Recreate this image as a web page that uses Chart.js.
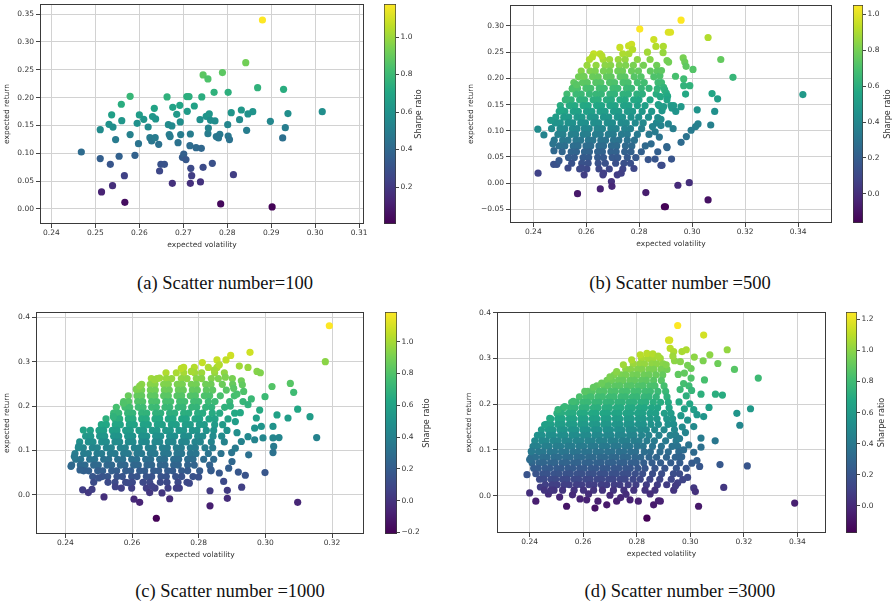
<!DOCTYPE html>
<html>
<head>
<meta charset="utf-8">
<script src="https://cdn.jsdelivr.net/npm/chart.js@4.4.0/dist/chart.umd.min.js"></script>
<style>
    html, body { margin: 0; padding: 0; background: #fff; }
    body { width: 893px; height: 605px; position: relative; overflow: hidden; }
    canvas { position: absolute; }
    .cap {
        position: absolute; white-space: nowrap; line-height: 1;
        font-family: "Liberation Serif", "Times New Roman", serif; font-size: 18.5px; color: #111;
        transform: translateX(-50%);
    }
</style>
</head>
<body>
<canvas id="plotA"></canvas><canvas id="cbarA"></canvas>
<canvas id="plotB"></canvas><canvas id="cbarB"></canvas>
<canvas id="plotC"></canvas><canvas id="cbarC"></canvas>
<canvas id="plotD"></canvas><canvas id="cbarD"></canvas>
<div class="cap" style="left:225px; top:274px;">(a) Scatter number=100</div>
<div class="cap" style="left:680px; top:274px;">(b) Scatter number =500</div>
<div class="cap" style="left:230px; top:582px;">(c) Scatter number =1000</div>
<div class="cap" style="left:680px; top:582px;">(d) Scatter number =3000</div>
<script>
/* =============================
   DATA  ([expected volatility, expected return])
============================= */
const pointsA = [
    [0.2468,0.1023],[0.2511,0.0904],[0.2511,0.1424],[0.2514,0.0305],[0.2534,0.0802],[0.2531,0.152],[0.2537,0.169],
    [0.254,0.147],[0.2539,0.0419],[0.2546,0.1245],[0.2554,0.0946],[0.2559,0.188],[0.256,0.1586],[0.2566,0.0598],
    [0.2567,0.012],[0.2579,0.2023],[0.2579,0.1335],[0.259,0.0963],[0.2595,0.1538],[0.2598,0.1173],[0.26,0.1688],
    [0.261,0.161],[0.262,0.1472],[0.2624,0.128],[0.2628,0.122],[0.263,0.1658],[0.2634,0.1807],[0.2636,0.128],
    [0.2637,0.1616],[0.2644,0.1161],[0.2646,0.0682],[0.2649,0.0802],[0.2657,0.0802],[0.2663,0.2011],[0.2666,0.1514],
    [0.2668,0.1335],[0.267,0.1299],[0.2674,0.149],[0.2675,0.0461],[0.2676,0.1825],[0.2685,0.17],[0.2688,0.1191],
    [0.2692,0.1861],[0.2693,0.1562],[0.2694,0.1335],[0.2698,0.0928],[0.2701,0.0987],[0.2706,0.0886],[0.2709,0.1753],
    [0.2708,0.2017],[0.2713,0.2017],[0.2715,0.1137],[0.2716,0.1346],[0.2716,0.0461],[0.2717,0.073],[0.2719,0.0598],
    [0.2725,0.1849],[0.2729,0.1101],[0.2738,0.1604],[0.2739,0.0485],[0.2742,0.2011],[0.2741,0.1089],[0.2745,0.0748],
    [0.2745,0.2406],[0.2752,0.1664],[0.2756,0.2334],[0.2756,0.1352],[0.2757,0.1454],[0.2759,0.1706],[0.2762,0.1592],
    [0.2766,0.082],[0.277,0.2095],[0.2775,0.1299],[0.2772,0.158],
    [0.288,0.3393],[0.2842,0.2627],[0.2789,0.2448],[0.2869,0.2178],[0.2928,0.2148],[0.2802,0.2095],[0.3016,0.1747],
    [0.2832,0.1777],[0.2809,0.1729],[0.2858,0.1747],[0.2847,0.1706],[0.2938,0.1712],[0.2828,0.1604],[0.2898,0.1574],
    [0.2932,0.146],[0.2801,0.1514],[0.2844,0.1412],[0.2783,0.134],[0.278,0.1275],[0.2802,0.131],[0.2805,0.1245],
    [0.2926,0.1275],[0.2814,0.0616],[0.2785,0.009],[0.2902,0.0036]
];

// (b) dense body, read band by band: return level -> volatilities seen in that band
const bandRetB = [0.247,0.236,0.225,0.214,0.203,0.192,0.181,0.170,0.159,0.148,0.137,0.126,0.115,0.104,0.093,0.082,0.071,0.060,0.049,0.038,0.027,0.016];
const bandVolB = [
    [0.2628,0.2652,0.2738,0.2761],
    [0.2612,0.2664,0.2688,0.2721,0.2747,0.2793,0.2841],
    [0.2603,0.2637,0.2671,0.2692,0.2725,0.2749,0.2778,0.2816,0.2866],
    [0.2581,0.2615,0.2634,0.2665,0.2688,0.2719,0.2737,0.2771,0.2797,0.2842,0.2868],
    [0.2571,0.2592,0.2624,0.2645,0.2676,0.2694,0.2728,0.2746,0.2781,0.2807,0.2855],
    [0.2553,0.2586,0.2604,0.2636,0.2655,0.2688,0.2707,0.2739,0.2758,0.2793,0.2819,0.2871],
    [0.2548,0.2567,0.2599,0.2617,0.2649,0.2668,0.2701,0.2719,0.2752,0.2771,0.2808,0.2837],
    [0.2527,0.2561,0.2581,0.2612,0.2637,0.2657,0.2689,0.2707,0.2739,0.2759,0.2791,0.2812,0.2864],
    [0.2521,0.2543,0.2575,0.2594,0.2626,0.2645,0.2676,0.2695,0.2727,0.2747,0.2779,0.2799,0.2841],
    [0.2502,0.2536,0.2557,0.2588,0.2607,0.2639,0.2658,0.2689,0.2709,0.2741,0.2761,0.2793,0.2822,0.2875],
    [0.2498,0.2519,0.2551,0.2570,0.2601,0.2621,0.2652,0.2671,0.2703,0.2723,0.2755,0.2775,0.2811,0.2847],
    [0.2485,0.2515,0.2534,0.2565,0.2584,0.2615,0.2634,0.2665,0.2685,0.2717,0.2737,0.2769,0.2798,0.2835],
    [0.2483,0.2502,0.2531,0.2549,0.2579,0.2597,0.2628,0.2647,0.2679,0.2699,0.2731,0.2751,0.2785,0.2815,0.2865],
    [0.2469,0.2501,0.2519,0.2548,0.2565,0.2593,0.2611,0.2641,0.2661,0.2693,0.2713,0.2745,0.2767,0.2809],
    [0.2493,0.2512,0.2543,0.2560,0.2589,0.2605,0.2635,0.2653,0.2683,0.2702,0.2733,0.2755,0.2793,0.2837],
    [0.2479,0.2511,0.2531,0.2561,0.2579,0.2608,0.2625,0.2655,0.2673,0.2703,0.2723,0.2755,0.2782],
    [0.2498,0.2519,0.2551,0.2569,0.2599,0.2617,0.2648,0.2665,0.2695,0.2715,0.2748,0.2772,0.2823],
    [0.2509,0.2543,0.2563,0.2593,0.2612,0.2643,0.2661,0.2693,0.2713,0.2745,0.2769,0.2808],
    [0.2533,0.2555,0.2588,0.2609,0.2643,0.2665,0.2698,0.2719,0.2755,0.2787],
    [0.2545,0.2583,0.2607,0.2645,0.2672,0.2711,0.2742],
    [0.2575,0.2602,0.2648,0.2687,0.2738],
    [0.2592,0.2663,0.2717]
];
const loosePointsB = [
    [0.2417,0.103],[0.2440,0.092],[0.2418,0.019],[0.2466,0.120],[0.2474,0.075],[0.2478,0.062],[0.2477,0.036],
    [0.2489,0.036],[0.2497,0.043],[0.2531,0.029],[0.2506,0.140],[0.2525,0.160],[0.2547,0.180],[0.2563,0.188],
    [0.2589,0.204],[0.2623,0.241],[0.2659,0.243],
    [0.2802,0.294],[0.2855,0.274],[0.2910,0.288],[0.2727,0.259],[0.2760,0.262],[0.2771,0.265],[0.2775,0.255],
    [0.2831,0.250],[0.2863,0.261],
    [0.2582,0.029],[0.2665,0.019],[0.2695,0.003],[0.2697,-0.006],[0.2653,-0.011],[0.2567,-0.020],[0.2732,0.019],
    [0.2767,0.038],[0.2825,-0.018],[0.2895,-0.045],[0.2834,0.045],[0.2860,0.046],[0.2882,0.034],[0.2904,0.070],
    [0.2870,0.060],[0.2845,0.075],[0.2780,0.028],
    [0.2878,0.205],[0.2884,0.192],[0.2868,0.180],[0.2880,0.165],[0.2872,0.150],[0.2886,0.138],[0.2870,0.125],
    [0.2882,0.110],[0.2860,0.098],[0.2876,0.088],[0.2850,0.108],
    [0.2958,0.311],[0.2918,0.288],[0.3060,0.278],[0.2891,0.261],[0.2890,0.249],[0.2966,0.239],[0.2972,0.231],
    [0.2977,0.223],[0.2905,0.234],[0.2911,0.231],[0.3108,0.236],[0.3003,0.217],[0.3154,0.202],[0.2884,0.215],
    [0.2937,0.204],[0.2968,0.199],[0.2968,0.186],[0.2991,0.186],[0.2892,0.183],[0.2896,0.178],[0.2902,0.172],
    [0.2907,0.166],[0.2905,0.159],[0.2975,0.170],[0.3075,0.171],[0.3418,0.169],[0.3096,0.161],[0.2920,0.148],
    [0.2930,0.148],[0.2924,0.143],[0.2958,0.146],[0.2892,0.146],[0.2938,0.137],[0.3019,0.140],[0.3085,0.137],
    [0.2882,0.122],[0.2910,0.113],[0.2928,0.104],[0.3022,0.113],[0.3013,0.108],[0.3070,0.111],[0.2996,0.101],
    [0.2978,0.089],[0.2958,0.078],[0.2905,0.068],[0.2922,0.046],[0.2886,0.034],[0.2989,0.001],[0.2946,-0.004],
    [0.3060,-0.032],[0.2899,-0.045]
];

// (c)
const bandRetC = [0.287,0.275,0.262,0.249,0.236,0.223,0.210,0.197,0.184,0.171,0.158,0.145,0.132,0.119,0.106,0.093,0.080,0.067,0.054,0.041,0.028,0.015];
const bandVolC = [
    [0.2755,0.2787,0.2829,0.2855],
    [0.2702,0.2733,0.2755,0.2788,0.2809,0.2848,0.2877],
    [0.2658,0.2675,0.2703,0.2719,0.2748,0.2765,0.2793,0.2809,0.2838,0.2859,0.2901],
    [0.2629,0.2655,0.2669,0.2695,0.2709,0.2736,0.2751,0.2778,0.2793,0.2821,0.2837,0.2871,0.2902],
    [0.2615,0.2629,0.2655,0.2670,0.2697,0.2712,0.2739,0.2754,0.2781,0.2796,0.2823,0.2842,0.2883],
    [0.2589,0.2615,0.2629,0.2655,0.2669,0.2695,0.2709,0.2735,0.2749,0.2775,0.2790,0.2817,0.2833,0.2865,0.2907],
    [0.2575,0.2590,0.2617,0.2632,0.2659,0.2674,0.2701,0.2716,0.2743,0.2758,0.2785,0.2800,0.2829,0.2849,0.2893],
    [0.2553,0.2579,0.2593,0.2619,0.2633,0.2659,0.2673,0.2699,0.2713,0.2739,0.2753,0.2779,0.2794,0.2821,0.2839,0.2878],
    [0.2545,0.2560,0.2587,0.2602,0.2629,0.2644,0.2671,0.2686,0.2713,0.2728,0.2755,0.2770,0.2797,0.2812,0.2841,0.2863,0.2908],
    [0.2522,0.2549,0.2563,0.2589,0.2603,0.2629,0.2643,0.2669,0.2683,0.2709,0.2723,0.2749,0.2763,0.2789,0.2803,0.2831,0.2849,0.2888],
    [0.2508,0.2523,0.2550,0.2565,0.2592,0.2607,0.2634,0.2649,0.2676,0.2691,0.2718,0.2733,0.2760,0.2775,0.2802,0.2817,0.2848,0.2872],
    [0.2475,0.2501,0.2515,0.2541,0.2555,0.2581,0.2595,0.2621,0.2635,0.2661,0.2675,0.2701,0.2715,0.2741,0.2755,0.2781,0.2795,0.2823,0.2845,0.2885],
    [0.2461,0.2476,0.2503,0.2518,0.2545,0.2560,0.2587,0.2602,0.2629,0.2644,0.2671,0.2686,0.2713,0.2728,0.2755,0.2770,0.2797,0.2812,0.2843,0.2869],
    [0.2443,0.2469,0.2483,0.2509,0.2523,0.2549,0.2563,0.2589,0.2603,0.2629,0.2643,0.2669,0.2683,0.2709,0.2723,0.2749,0.2763,0.2789,0.2805,0.2838,0.2877],
    [0.2439,0.2454,0.2481,0.2496,0.2523,0.2538,0.2565,0.2580,0.2607,0.2622,0.2649,0.2664,0.2691,0.2706,0.2733,0.2748,0.2775,0.2790,0.2819,0.2842],
    [0.2429,0.2455,0.2469,0.2495,0.2509,0.2535,0.2549,0.2575,0.2589,0.2615,0.2629,0.2655,0.2669,0.2695,0.2709,0.2735,0.2749,0.2775,0.2792,0.2829,0.2867],
    [0.2431,0.2446,0.2473,0.2488,0.2515,0.2530,0.2557,0.2572,0.2599,0.2614,0.2641,0.2656,0.2683,0.2698,0.2725,0.2740,0.2767,0.2783,0.2815,0.2845],
    [0.2419,0.2445,0.2459,0.2485,0.2499,0.2525,0.2539,0.2565,0.2579,0.2605,0.2619,0.2645,0.2659,0.2685,0.2699,0.2725,0.2739,0.2767,0.2787,0.2833],
    [0.2455,0.2470,0.2497,0.2512,0.2539,0.2554,0.2581,0.2596,0.2623,0.2638,0.2665,0.2680,0.2707,0.2722,0.2749,0.2767,0.2803,0.2837],
    [0.2482,0.2511,0.2527,0.2555,0.2571,0.2599,0.2615,0.2643,0.2659,0.2687,0.2703,0.2731,0.2749,0.2783],
    [0.2528,0.2549,0.2581,0.2601,0.2633,0.2653,0.2685,0.2705,0.2738,0.2765],
    [0.2568,0.2599,0.2643,0.2669,0.2708,0.2742]
];
const loosePointsC = [
    [0.2417,0.064],[0.2427,0.086],[0.2440,0.109],[0.2454,0.146],[0.2444,0.056],[0.2452,0.011],[0.2469,0.005],
    [0.2516,-0.005],[0.2544,0.176],[0.2574,0.206],[0.2613,0.238],[0.2623,0.245],[0.2668,0.259],[0.2683,0.263],
    [0.2748,0.285],[0.2778,0.278],[0.2811,0.298],[0.2855,0.304],[0.2606,-0.010],[0.2623,-0.017],[0.2673,-0.053],
    [0.2653,0.005],[0.2690,0.004],[0.2713,-0.009],[0.2733,0.015],[0.2834,0.009],[0.2834,-0.025],[0.2485,0.028],
    [0.2500,0.038],[0.2550,0.018],[0.2590,0.027],[0.2660,0.019],[0.2772,0.026],[0.2800,0.040],[0.2480,0.012],
    [0.3192,0.381],[0.3180,0.300],[0.2954,0.321],[0.2896,0.314],[0.2882,0.304],[0.2922,0.290],[0.2948,0.287],
    [0.2975,0.278],[0.2985,0.275],[0.2847,0.281],[0.2862,0.293],[0.2928,0.257],[0.2931,0.248],[0.2905,0.240],
    [0.3075,0.251],[0.3020,0.244],[0.3085,0.231],[0.2999,0.221],[0.2935,0.233],[0.2958,0.216],[0.2933,0.210],
    [0.2948,0.203],[0.2983,0.191],[0.2973,0.173],[0.3035,0.180],[0.3068,0.173],[0.3097,0.193],[0.3134,0.176],
    [0.3154,0.129],[0.2988,0.154],[0.3023,0.154],[0.2968,0.150],[0.2948,0.131],[0.2928,0.120],[0.2968,0.124],
    [0.2993,0.128],[0.3023,0.128],[0.3041,0.129],[0.3025,0.109],[0.3023,0.095],[0.2950,0.090],[0.2899,0.095],
    [0.2919,0.051],[0.2940,0.044],[0.2999,0.050],[0.2929,0.017],[0.2886,0.010],[0.2886,-0.008],[0.3097,-0.017],
    [0.2862,0.049],[0.2837,0.056],[0.2900,0.075],[0.2915,0.140],[0.2910,0.165],[0.2925,0.185],[0.2895,0.200],
    [0.2915,0.227],[0.2880,0.265],[0.2910,0.105],[0.2890,0.060],[0.2875,0.030]
];

// (d)
const bandRetD = [0.300,0.288,0.276,0.264,0.252,0.240,0.228,0.216,0.204,0.192,0.180,0.168,0.156,0.144,0.132,0.120,0.108,0.096,0.084,0.072,0.060,0.048,0.036,0.024,0.012];
const bandVolD = [
    [0.2818,0.2843,0.2861,0.2888],
    [0.2787,0.2812,0.2829,0.2856,0.2874,0.2899],
    [0.2759,0.2777,0.2803,0.2820,0.2846,0.2864,0.2891,0.2913],
    [0.2716,0.2742,0.2759,0.2785,0.2802,0.2828,0.2846,0.2872,0.2897],
    [0.2689,0.2706,0.2732,0.2749,0.2775,0.2792,0.2818,0.2836,0.2863,0.2892],
    [0.2651,0.2677,0.2694,0.2720,0.2737,0.2763,0.2780,0.2806,0.2823,0.2849,0.2868,0.2902],
    [0.2617,0.2634,0.2660,0.2677,0.2703,0.2720,0.2746,0.2763,0.2789,0.2806,0.2832,0.2851,0.2879,0.2908],
    [0.2586,0.2612,0.2629,0.2655,0.2672,0.2698,0.2715,0.2741,0.2758,0.2784,0.2801,0.2827,0.2846,0.2873,0.2913],
    [0.2557,0.2574,0.2600,0.2617,0.2643,0.2660,0.2686,0.2703,0.2729,0.2746,0.2772,0.2789,0.2815,0.2834,0.2862,0.2889,0.2918],
    [0.2526,0.2552,0.2569,0.2595,0.2612,0.2638,0.2655,0.2681,0.2698,0.2724,0.2741,0.2767,0.2784,0.2810,0.2829,0.2855,0.2878,0.2921],
    [0.2502,0.2519,0.2545,0.2562,0.2588,0.2605,0.2631,0.2648,0.2674,0.2691,0.2717,0.2734,0.2760,0.2777,0.2803,0.2822,0.2849,0.2871,0.2903,0.2928],
    [0.2479,0.2505,0.2522,0.2548,0.2565,0.2591,0.2608,0.2634,0.2651,0.2677,0.2694,0.2720,0.2737,0.2763,0.2780,0.2806,0.2825,0.2851,0.2876,0.2912,0.2934],
    [0.2462,0.2479,0.2505,0.2522,0.2548,0.2565,0.2591,0.2608,0.2634,0.2651,0.2677,0.2694,0.2720,0.2737,0.2763,0.2780,0.2806,0.2825,0.2853,0.2881,0.2917,0.2938],
    [0.2444,0.2470,0.2487,0.2513,0.2530,0.2556,0.2573,0.2599,0.2616,0.2642,0.2659,0.2685,0.2702,0.2728,0.2745,0.2771,0.2788,0.2814,0.2836,0.2867,0.2902,0.2941],
    [0.2429,0.2446,0.2472,0.2489,0.2515,0.2532,0.2558,0.2575,0.2601,0.2618,0.2644,0.2661,0.2687,0.2704,0.2730,0.2747,0.2773,0.2790,0.2818,0.2845,0.2883,0.2925,0.2946],
    [0.2419,0.2445,0.2462,0.2488,0.2505,0.2531,0.2548,0.2574,0.2591,0.2617,0.2634,0.2660,0.2677,0.2703,0.2720,0.2746,0.2763,0.2789,0.2809,0.2838,0.2866,0.2908,0.2947],
    [0.2413,0.2430,0.2456,0.2473,0.2499,0.2516,0.2542,0.2559,0.2585,0.2602,0.2628,0.2645,0.2671,0.2688,0.2714,0.2731,0.2757,0.2774,0.2801,0.2824,0.2859,0.2892,0.2932,0.2953],
    [0.2407,0.2433,0.2450,0.2476,0.2493,0.2519,0.2536,0.2562,0.2579,0.2605,0.2622,0.2648,0.2665,0.2691,0.2708,0.2734,0.2751,0.2777,0.2796,0.2828,0.2851,0.2887,0.2918,0.2957],
    [0.2405,0.2422,0.2448,0.2465,0.2491,0.2508,0.2534,0.2551,0.2577,0.2594,0.2620,0.2637,0.2663,0.2680,0.2706,0.2723,0.2749,0.2766,0.2793,0.2815,0.2846,0.2874,0.2911,0.2944,0.2962],
    [0.2409,0.2435,0.2452,0.2478,0.2495,0.2521,0.2538,0.2564,0.2581,0.2607,0.2624,0.2650,0.2667,0.2693,0.2710,0.2736,0.2753,0.2779,0.2798,0.2826,0.2857,0.2889,0.2927,0.2961],
    [0.2415,0.2432,0.2458,0.2475,0.2501,0.2518,0.2544,0.2561,0.2587,0.2604,0.2630,0.2647,0.2673,0.2690,0.2716,0.2733,0.2759,0.2776,0.2804,0.2831,0.2868,0.2905,0.2948],
    [0.2423,0.2449,0.2466,0.2492,0.2509,0.2535,0.2552,0.2578,0.2595,0.2621,0.2638,0.2664,0.2681,0.2707,0.2724,0.2750,0.2768,0.2795,0.2822,0.2859,0.2893,0.2937],
    [0.2437,0.2454,0.2480,0.2497,0.2523,0.2540,0.2566,0.2583,0.2609,0.2626,0.2652,0.2669,0.2695,0.2712,0.2738,0.2757,0.2786,0.2813,0.2849,0.2886,0.2929],
    [0.2459,0.2484,0.2503,0.2529,0.2548,0.2575,0.2594,0.2621,0.2641,0.2668,0.2688,0.2716,0.2737,0.2768,0.2797,0.2836,0.2877,0.2912],
    [0.2491,0.2523,0.2566,0.2601,0.2639,0.2672,0.2713,0.2752,0.2789,0.2831,0.2868]
];
const loosePointsD = [
    [0.2390,0.046],[0.2400,0.079],[0.2406,0.097],[0.2400,0.006],[0.2423,-0.012],[0.2538,-0.023],[0.2512,-0.003],
    [0.2588,-0.007],[0.2613,-0.009],[0.2644,-0.027],[0.2655,-0.012],[0.2688,-0.020],[0.2725,-0.012],[0.2740,-0.004],
    [0.2775,-0.009],[0.2806,-0.012],[0.2838,-0.049],[0.2863,-0.020],[0.2881,-0.011],[0.2470,0.004],[0.2480,0.012],
    [0.2560,0.002],[0.2620,0.004],[0.2700,0.001],[0.2760,0.003],[0.2850,0.004],[0.2440,0.019],[0.2455,0.012],
    [0.2456,0.155],[0.2475,0.169],[0.2506,0.188],[0.2531,0.195],[0.2563,0.206],[0.2606,0.228],[0.2638,0.237],
    [0.2669,0.246],[0.2700,0.260],[0.2725,0.271],[0.2750,0.286],[0.2781,0.297],[0.2813,0.308],[0.2838,0.311],
    [0.2919,0.340],[0.2925,0.322],[0.2860,0.310],[0.2880,0.305],
    [0.2953,0.372],[0.3050,0.351],[0.2923,0.340],[0.2938,0.315],[0.2969,0.315],[0.2985,0.319],[0.3138,0.319],
    [0.3073,0.308],[0.3015,0.303],[0.3048,0.295],[0.3103,0.289],[0.2941,0.295],[0.2963,0.293],[0.2910,0.286],
    [0.3165,0.276],[0.3003,0.278],[0.3254,0.257],[0.3053,0.253],[0.3003,0.257],[0.3094,0.222],[0.3120,0.220],
    [0.3040,0.222],[0.2998,0.201],[0.3013,0.188],[0.3070,0.193],[0.3225,0.190],[0.3174,0.180],[0.3185,0.154],
    [0.3025,0.177],[0.3050,0.173],[0.3013,0.151],[0.3093,0.120],[0.3040,0.126],[0.2994,0.111],[0.3040,0.106],
    [0.3013,0.095],[0.3111,0.068],[0.3213,0.065],[0.3006,0.071],[0.3035,0.064],[0.3025,0.077],[0.3125,0.018],
    [0.3013,0.017],[0.3019,0.009],[0.3031,-0.023],[0.3390,-0.016],[0.2953,0.028],[0.2938,0.012],[0.2888,-0.012],
    [0.2955,0.265],[0.2975,0.245],[0.2962,0.232],[0.2985,0.218],[0.2958,0.205],[0.2978,0.190],[0.2965,0.175],
    [0.2990,0.165],[0.2970,0.150],[0.2982,0.138],[0.2960,0.125],[0.2975,0.100],[0.2968,0.085],[0.2985,0.060],
    [0.2960,0.048],[0.2972,0.035],[0.2990,0.040],[0.2945,0.022],[0.2978,0.268],[0.2995,0.240],[0.3005,0.230],
    [0.2990,0.285],[0.2935,0.305]
];

// axis ticks
const volTicksA = [0.24,0.25,0.26,0.27,0.28,0.29,0.30,0.31];
const retTicksA = [0.00,0.05,0.10,0.15,0.20,0.25,0.30,0.35];
const volTicksB = [0.24,0.26,0.28,0.30,0.32,0.34];
const retTicksB = [-0.05,0.00,0.05,0.10,0.15,0.20,0.25,0.30];
const volTicksC = [0.24,0.26,0.28,0.30,0.32];
const retTicksC = [0.0,0.1,0.2,0.3,0.4];
const volTicksD = [0.24,0.26,0.28,0.30,0.32,0.34];
const retTicksD = [0.0,0.1,0.2,0.3,0.4];

// colour bar ranges (Sharpe ratio = return / volatility) and ticks
const sharpeRangeA = [0.003, 1.176];
const sharpeRangeB = [-0.162, 1.052];
const sharpeRangeC = [-0.21, 1.187];
const sharpeRangeD = [-0.175, 1.247];
const sharpeTicksA = [0.2,0.4,0.6,0.8,1.0];
const sharpeTicksB = [0.0,0.2,0.4,0.6,0.8,1.0];
const sharpeTicksC = [-0.2,0.0,0.2,0.4,0.6,0.8,1.0];
const sharpeTicksD = [0.0,0.2,0.4,0.6,0.8,1.0,1.2];

/* =============================
   HELPERS
============================= */
const FONT = { family: '"DejaVu Sans", sans-serif', size: 7.5 };
const TEXT = '#333';
const PAD_T = 8, PAD_R = 22, X_H = 28;
const DOT = 3.6;

const VIRIDIS = [[68,1,84],[72,35,116],[64,67,135],[52,94,141],[41,120,142],[32,144,140],
                 [34,167,132],[68,190,112],[121,209,81],[189,222,38],[253,231,36]];

function viridis(t) {
    t = Math.min(1, Math.max(0, t));
    const s = t * 10, i = Math.min(9, Math.floor(s)), f = s - i;
    const a = VIRIDIS[i], b = VIRIDIS[i + 1];
    const c = a.map((v, k) => Math.round(v + (b[k] - v) * f));
    return `rgb(${c[0]},${c[1]},${c[2]})`;
}

function fromBands(rets, vols, extra) {
    const out = [];
    rets.forEach((r, i) => vols[i].forEach(v => out.push([v, r])));
    return out.concat(extra);
}

function fmt(v, dec) {
    return v.toFixed(dec).replace('-', '\u2212');
}

function place(cv, left, top, w, h) {
    cv.width = w; cv.height = h;
    cv.style.left = left + 'px'; cv.style.top = top + 'px';
    cv.style.width = w + 'px'; cv.style.height = h + 'px';
}

const framePlugin = {
    id: 'frame',
    afterDraw(chart) {
        const { ctx, chartArea: a } = chart;
        ctx.save();
        ctx.strokeStyle = '#3a3a3a';
        ctx.lineWidth = 1;
        ctx.strokeRect(Math.round(a.left) + 0.5, Math.round(a.top) + 0.5,
                       Math.round(a.right - a.left) - 1, Math.round(a.bottom - a.top) - 1);
        ctx.restore();
    }
};

function drawScatter(id, box, view, pts, range) {
    const cv = document.getElementById(id);
    place(cv, box.left - box.yW, box.top - PAD_T,
          box.right - box.left + box.yW + PAD_R, box.bottom - box.top + PAD_T + X_H);

    const colors = pts.map(p => viridis((p[1] / p[0] - range[0]) / (range[1] - range[0])));
    const grid = { color: '#d2d2d2', lineWidth: 1, tickColor: '#444', tickLength: 4 };

    return new Chart(cv, {
        type: 'scatter',
        data: {
            datasets: [{
                data: pts.map(p => ({ x: p[0], y: p[1] })),
                pointBackgroundColor: colors,
                pointBorderWidth: 0,
                pointRadius: DOT,
                pointHoverRadius: DOT
            }]
        },
        options: {
            responsive: false,
            animation: false,
            events: [],
            layout: { padding: { top: PAD_T, right: PAD_R, left: 0, bottom: 0 } },
            plugins: { legend: { display: false }, tooltip: { enabled: false } },
            scales: {
                x: {
                    type: 'linear', min: view.x[0], max: view.x[1],
                    afterBuildTicks: s => { s.ticks = view.xTicks.map(v => ({ value: v })); },
                    afterFit: s => { s.height = X_H; },
                    ticks: { font: FONT, color: TEXT, padding: 1, autoSkip: false, maxRotation: 0,
                             callback: v => fmt(v, 2) },
                    grid, border: { display: false },
                    title: { display: true, text: 'expected volatility', font: FONT, color: TEXT,
                             padding: { top: 0, bottom: 2 } }
                },
                y: {
                    type: 'linear', min: view.y[0], max: view.y[1],
                    afterBuildTicks: s => { s.ticks = view.yTicks.map(v => ({ value: v })); },
                    afterFit: s => { s.width = box.yW; },
                    ticks: { font: FONT, color: TEXT, padding: 2, autoSkip: false,
                             callback: v => fmt(v, view.yDec) },
                    grid, border: { display: false },
                    title: { display: true, text: 'expected return', font: FONT, color: TEXT,
                             padding: { top: 3, bottom: 0 } }
                }
            }
        },
        plugins: [framePlugin]
    });
}

function drawColorbar(id, box, range, ticks, titleX) {
    const cv = document.getElementById(id);
    const axisW = 44;
    place(cv, box.left, box.top - PAD_T, box.right - box.left + axisW, box.bottom - box.top + 2 * PAD_T);

    const labelPlugin = {
        id: 'cbLabel',
        afterDraw(chart) {
            const { ctx, chartArea: a } = chart;
            ctx.save();
            ctx.translate(titleX - box.left, (a.top + a.bottom) / 2);
            ctx.rotate(-Math.PI / 2);
            ctx.font = '8px "DejaVu Sans", sans-serif';
            ctx.fillStyle = TEXT;
            ctx.textAlign = 'center';
            ctx.textBaseline = 'middle';
            ctx.fillText('Sharpe ratio', 0, 0);
            ctx.restore();
        }
    };

    return new Chart(cv, {
        type: 'bar',
        data: {
            labels: [''],
            datasets: [{
                data: [range],
                backgroundColor: c => {
                    const a = c.chart.chartArea;
                    if (!a) return 'rgb(32,144,140)';
                    const g = c.chart.ctx.createLinearGradient(0, a.bottom, 0, a.top);
                    VIRIDIS.forEach((v, i) => g.addColorStop(i / 10, `rgb(${v[0]},${v[1]},${v[2]})`));
                    return g;
                },
                borderColor: '#3a3a3a',
                borderWidth: 1,
                borderSkipped: false,
                barPercentage: 1,
                categoryPercentage: 1
            }]
        },
        options: {
            responsive: false,
            animation: false,
            events: [],
            layout: { padding: { top: PAD_T, bottom: PAD_T, left: 0, right: 0 } },
            plugins: { legend: { display: false }, tooltip: { enabled: false } },
            scales: {
                x: { display: false },
                y: {
                    position: 'right', min: range[0], max: range[1],
                    afterBuildTicks: s => { s.ticks = ticks.map(v => ({ value: v })); },
                    afterFit: s => { s.width = axisW; },
                    ticks: { font: FONT, color: TEXT, padding: 1.5, autoSkip: false,
                             callback: v => fmt(v, 1) },
                    grid: { drawOnChartArea: false, tickLength: 3, tickColor: '#444' },
                    border: { display: false }
                }
            }
        },
        plugins: [labelPlugin]
    });
}

/* =============================
   DRAW
============================= */
drawScatter('plotA', { left: 40, top: 4, right: 364, bottom: 224, yW: 40 },
    { x: [0.2374, 0.3111], y: [-0.027, 0.368], xTicks: volTicksA, yTicks: retTicksA, yDec: 2 },
    pointsA, sharpeRangeA);
drawColorbar('cbarA', { left: 384, top: 4, right: 396, bottom: 224 }, sharpeRangeA, sharpeTicksA, 419);

drawScatter('plotB', { left: 510, top: 5, right: 832, bottom: 223, yW: 46 },
    { x: [0.2312, 0.3528], y: [-0.076, 0.340], xTicks: volTicksB, yTicks: retTicksB, yDec: 2 },
    fromBands(bandRetB, bandVolB, loosePointsB), sharpeRangeB);
drawColorbar('cbarB', { left: 853, top: 5, right: 863, bottom: 223 }, sharpeRangeB, sharpeTicksB, 888);

drawScatter('plotC', { left: 36, top: 312, right: 364, bottom: 534, yW: 36 },
    { x: [0.2312, 0.3296], y: [-0.0885, 0.412], xTicks: volTicksC, yTicks: retTicksC, yDec: 1 },
    fromBands(bandRetC, bandVolC, loosePointsC), sharpeRangeC);
drawColorbar('cbarC', { left: 385, top: 312, right: 397, bottom: 534 }, sharpeRangeC, sharpeTicksC, 427);

drawScatter('plotD', { left: 497, top: 312, right: 826, bottom: 533, yW: 35 },
    { x: [0.2278, 0.3507], y: [-0.0815, 0.4015], xTicks: volTicksD, yTicks: retTicksD, yDec: 1 },
    fromBands(bandRetD, bandVolD, loosePointsD), sharpeRangeD);
drawColorbar('cbarD', { left: 846, top: 312, right: 857, bottom: 533 }, sharpeRangeD, sharpeTicksD, 882);
</script>
</body>
</html>
